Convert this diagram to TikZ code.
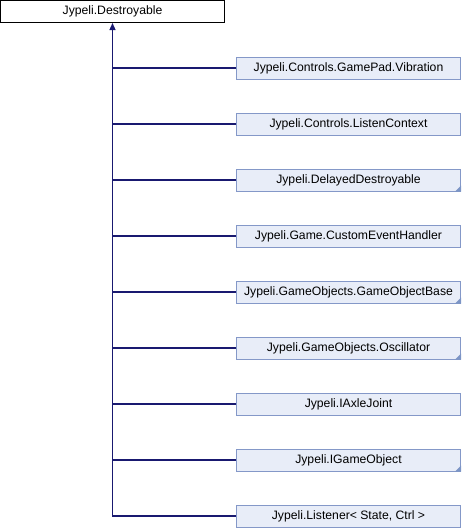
\documentclass[tikz,border=0pt]{standalone}
\usepackage{fontspec}
\setmainfont{Liberation Sans}
\usetikzlibrary{arrows.meta}
\definecolor{linkblue}{HTML}{191970}
\definecolor{boxfill}{HTML}{E8EDF8}
\definecolor{boxline}{HTML}{8498C8}
\definecolor{cornerblue}{HTML}{7C95C6}
\begin{document}
\begin{tikzpicture}[x=1pt,y=-1pt]
	\tikzset{cls/.style={draw=boxline,fill=boxfill,line width=1pt,minimum width=224pt,minimum height=22pt,inner sep=0pt,font=\fontsize{12.2}{14}\selectfont},
		root/.style={cls,draw=black,fill=white},
		link/.style={draw=linkblue,line width=1.2pt},
		corner/.style={fill=cornerblue}}
	\useasboundingbox (0,0) rectangle (462,528);
	\node[root] (base) at (112.5,11.5) {Jypeli.Destroyable};
	\foreach \i/\lab in {1/{Jypeli.Controls.GamePad.Vibration}, 2/{Jypeli.Controls.ListenContext},
		3/{Jypeli.DelayedDestroyable}, 4/{Jypeli.Game.CustomEventHandler},
		5/{Jypeli.GameObjects.GameObjectBase}, 6/{Jypeli.GameObjects.Oscillator},
		7/{Jypeli.IAxleJoint}, 8/{Jypeli.IGameObject}, 9/{Jypeli.Listener< State, Ctrl >}}{
		\node[cls] (c\i) at (348.5,12+56*\i) {\lab};
	}
	% small corner marks
	\foreach \i in {3,5,6,8}{
		\fill[corner] (c\i.south east) -- ++(-6,0) -- ++(6,-6) -- cycle;
	}
	\foreach \i in {1,...,8}{
		\draw[link] (c\i.west) -- (c\i.west -| base.south);
	}
	\draw[link,-{Triangle[length=7pt,width=6pt]}] (c9.west) -| (base.south);
\end{tikzpicture}
\end{document}
